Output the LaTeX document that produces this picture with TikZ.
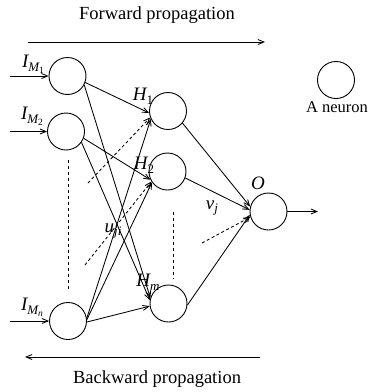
\documentclass[tikz,border=0pt]{standalone}
\usepackage{fontspec}
\setmainfont{Liberation Serif}
\usetikzlibrary{arrows.meta}
\newcommand\lsub[1]{\raisebox{-0.45ex}{\fontsize{13}{13}\selectfont #1}}
\newcommand\llsub[1]{\raisebox{-0.35ex}{\fontsize{9.5}{9.5}\selectfont #1}}
\begin{document}
\begin{tikzpicture}[x=1pt,y=-1pt,
  neuron/.style={circle,draw,minimum size=37pt,inner sep=0pt,line width=0.9pt},
  conn/.style={-{Straight Barb[length=6pt,width=5pt]},line width=0.85pt},
  dconn/.style={conn,dash pattern=on 3pt off 2.5pt},
  vdots/.style={line width=0.85pt,dash pattern=on 3pt off 3pt},
  big/.style={font=\fontsize{18.5}{20}\selectfont},
  mid/.style={font=\fontsize{16.5}{18}\selectfont},
  lab/.style={font=\fontsize{19}{21}\selectfont\itshape,inner sep=0pt}]
\useasboundingbox (0,0) rectangle (371,392);
% neurons
\node[neuron] (i1) at (67.5,76) {};
\node[neuron] (i2) at (66,131.5) {};
\node[neuron] (in) at (68,321) {};
\node[neuron] (h1) at (168,111) {};
\node[neuron] (h2) at (167.5,171.5) {};
\node[neuron] (hm) at (168.5,303.5) {};
\node[neuron] (o) at (268.5,211.5) {};
\node[neuron] (leg) at (336,80) {};
\node[mid] (legt) at (337,107) {A neuron};
% propagation arrows
\node[big] (fwd) at (157,15) {Forward propagation};
\node[big] (bwd) at (157,379) {Backward propagation};
\coordinate (f1) at (28,42); \coordinate (f2) at (265,42);
\coordinate (b1) at (260,357); \coordinate (b2) at (25,357);
\draw[conn] (f1) -- (f2);
\draw[conn] (b1) -- (b2);
% inputs
\coordinate (a1) at (10,76); \coordinate (a2) at (10,131.5); \coordinate (an) at (10,321);
\draw[conn] (a1) -- (i1.west);
\draw[conn] (a2) -- (i2.west);
\draw[conn] (an) -- (in.west);
\node[lab] (li1) at (33,64) {I\lsub{M\llsub{\upshape 1}}};
\node[lab] (li2) at (32,116) {I\lsub{M\llsub{\upshape 2}}};
\node[lab] (lin) at (32,307) {I\lsub{M\llsub{n}}};
% input -> hidden
\draw[conn] (i1.-20) -- (h1.186);
\draw[conn] (i1.-28) -- (hm.163);
\draw[conn] (i2.-21) -- (h2.206);
\draw[conn] (i2.-35) -- (hm.170);
\draw[conn] (in.8) -- (h1.205);
\draw[conn] (in.4) -- (h2.215);
\draw[conn] (in.-3) -- (hm.188);
% dashed weight arrows
\coordinate (d1) at (88,183);
\coordinate (d2) at (85,265);
\coordinate (d3) at (202,243);
\draw[dconn] (d1) -- (h1.200);
\draw[dconn] (d2) -- (h2.212);
\draw[dconn] (d3) -- (o.197);
% hidden -> output
\draw[conn] (h1.-40) -- (o.165);
\draw[conn] (h2.-20) -- (o.175);
\draw[conn] (hm.-5) -- (o.190);
\coordinate (out) at (318,211.5);
\draw[conn] (o.east) -- (out);
% vertical dots
\coordinate (v1) at (68,160); \coordinate (v2) at (68,290);
\coordinate (v3) at (173,212); \coordinate (v4) at (173,279);
\draw[vdots] (v1) -- (v2);
\draw[vdots] (v3) -- (v4);
% labels
\node[lab] (lh1) at (143,96) {H\lsub{\upshape 1}};
\node[lab] (lh2) at (144,165) {H\lsub{\upshape 2}};
\node[lab] (lhm) at (148,282) {H\lsub{m}};
\node[lab] (lo) at (258,183) {O};
\node[lab] (lu) at (113,231) {u\lsub{ji}};
\node[lab] (lv) at (212,208) {v\lsub{j}};
\end{tikzpicture}
\end{document}
